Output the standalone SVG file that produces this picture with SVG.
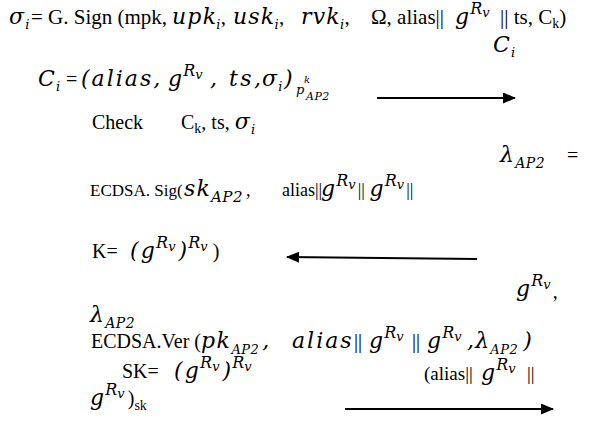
<svg xmlns="http://www.w3.org/2000/svg" width="590" height="425" viewBox="0 0 590 425">
<style>
text{fill:#000}
.t{font-family:"Liberation Serif",serif;font-style:normal;font-size:20px;letter-spacing:0}
.m{font-family:"DejaVu Serif",serif;font-style:italic;font-size:22px;letter-spacing:1.2px}
.sb{font-family:"DejaVu Serif",serif;font-style:italic;font-size:13px;letter-spacing:0.5px}
.R{font-family:"DejaVu Serif",serif;font-style:italic;font-size:16px;letter-spacing:0}
.v{font-family:"DejaVu Serif",serif;font-style:italic;font-size:13px;letter-spacing:0}
.ts{font-family:"Liberation Serif",serif;font-style:normal;font-size:14px;letter-spacing:0}
.ln{stroke:#000;stroke-width:2;fill:none}
</style>
<defs>
<marker id="ah" markerWidth="13" markerHeight="11" refX="12" refY="5.5" orient="auto" markerUnits="userSpaceOnUse">
<path d="M0,0 L13,5.5 L0,11 Z" fill="#000"/>
</marker>
</defs>
<rect width="590" height="425" fill="#fff"/>

<g id="connectors">
<line x1="377" y1="98" x2="515" y2="98" class="ln" marker-end="url(#ah)"/>
<line x1="477" y1="259" x2="287" y2="257" class="ln" marker-end="url(#ah)"/>
<line x1="345" y1="409" x2="553" y2="409" class="ln" marker-end="url(#ah)"/>
</g>

<g id="gsign">
<text x="9" y="24" class="m">σ<tspan class="sb" dy="5">i</tspan></text>
<text x="31" y="24" class="t" style="font-size:21px">= G. Sign (mpk,</text>
<text x="172" y="24" class="m">upk<tspan class="sb" dy="5" dx="-1">i</tspan><tspan class="t" dy="-5" style="font-size:21px">,</tspan></text>
<text x="233" y="24" class="m">usk<tspan class="sb" dy="5" dx="-1">i</tspan><tspan class="t" dy="-5" style="font-size:21px">,</tspan></text>
<text x="301" y="24" class="m">rvk<tspan class="sb" dy="5" dx="-1">i</tspan><tspan class="t" dy="-5" style="font-size:21px">,</tspan></text>
<text x="371" y="24" class="t" style="font-size:21px">Ω, alias||</text>
<text x="455" y="24" class="m">g<tspan class="R" dy="-10">R</tspan><tspan class="v" dy="3">v</tspan></text>
<text x="500" y="24" class="t" style="font-size:21px">|| ts, C<tspan class="ts" dy="4">k</tspan><tspan dy="-4">)</tspan></text>
</g>

<g id="ci">
<text x="493" y="52" class="m">C<tspan class="sb" dy="5">i</tspan></text>
</g>

<g id="cidef">
<text x="38" y="86" class="m">C<tspan class="sb" dy="5">i</tspan></text>
<text x="66" y="86" class="t">=</text>
<text x="81" y="86" class="m" style="letter-spacing:2px">(alias,</text>
<text x="168" y="86" class="m">g<tspan class="R" dy="-10">R</tspan><tspan class="v" dy="3">v</tspan></text>
<text x="210" y="86" class="m" style="letter-spacing:2.5px">, ts,</text>
<text x="262" y="86" class="m">σ<tspan class="sb" dy="5">i</tspan><tspan dy="-5" dx="1">)</tspan></text>
<text x="296" y="94" class="sb">p</text>
<text x="304" y="83" class="v" style="font-size:10px">k</text>
<text x="306" y="100" class="sb" style="font-size:11px">AP2</text>
</g>

<g id="check">
<text x="92" y="129" class="t">Check</text>
<text x="181" y="129" class="t">C<tspan class="ts" dy="4">k</tspan><tspan dy="-4">, ts, </tspan><tspan class="m">σ</tspan><tspan class="sb" dy="5">i</tspan></text>
</g>

<g id="lambda1">
<text x="500" y="162" class="m">λ<tspan class="sb" dy="6" style="font-size:14px">AP2</tspan></text>
<text x="567" y="162" class="t">=</text>
</g>

<g id="ecdsasig">
<text x="90" y="196" class="t" style="font-size:17px">ECDSA. Sig(</text>
<text x="184" y="196" class="m">sk<tspan class="sb" dy="6" style="font-size:15px">AP2</tspan><tspan class="t" dy="-6" dx="3" style="font-size:18px">,</tspan></text>
<text x="282" y="196" class="t" style="font-size:18px">alias||</text>
<text x="321" y="196" class="m">g<tspan class="R" dy="-10">R</tspan><tspan class="v" dy="3">v</tspan><tspan class="t" dy="7" dx="2" style="font-size:18px">|| </tspan><tspan class="m">g</tspan><tspan class="R" dy="-10">R</tspan><tspan class="v" dy="3">v</tspan><tspan class="t" dy="7" dx="2" style="font-size:18px">||</tspan></text>
</g>

<g id="kdef">
<text x="92" y="258" class="t">K=</text>
<text x="130" y="258" class="m">(<tspan dx="1">g</tspan><tspan class="R" dy="-10">R</tspan><tspan class="v" dy="3">v</tspan><tspan dy="7" dx="3">)</tspan><tspan class="R" dy="-10">R</tspan><tspan class="v" dy="3">v</tspan><tspan class="t" dy="7" dx="5">)</tspan></text>
</g>

<g id="grv">
<text x="516" y="296" class="m">g<tspan class="R" dy="-10">R</tspan><tspan class="v" dy="3">v</tspan><tspan class="t" dy="9" dx="2">,</tspan></text>
</g>

<g id="lambda2">
<text x="90" y="322" class="m">λ<tspan class="sb" dy="6" style="font-size:14px">AP2</tspan></text>
</g>

<g id="ecdsaver">
<text x="91" y="348" class="t">ECDSA.Ver (<tspan class="m" style="letter-spacing:1.5px">pk</tspan><tspan class="sb" dy="6" style="font-size:13px">AP2</tspan><tspan class="m" dy="-6" dx="3">,</tspan></text>
<text x="292" y="348" class="m" style="letter-spacing:2px">alias</text>
<text x="354" y="348" class="t">||</text>
<text x="369" y="348" class="m">g<tspan class="R" dy="-10">R</tspan><tspan class="v" dy="3">v</tspan></text>
<text x="412" y="348" class="t">||</text>
<text x="427" y="348" class="m">g<tspan class="R" dy="-10">R</tspan><tspan class="v" dy="3">v</tspan></text>
<text x="467" y="348" class="m">,λ<tspan class="sb" dy="6" style="font-size:13px">AP2</tspan><tspan dy="-6" dx="5">)</tspan></text>
</g>

<g id="skdef">
<text x="122" y="378" class="t">SK=</text>
<text x="174" y="378" class="m">(<tspan dx="1">g</tspan><tspan class="R" dy="-10">R</tspan><tspan class="v" dy="3">v</tspan><tspan dy="7" dx="3">)</tspan><tspan class="R" dy="-10">R</tspan><tspan class="v" dy="3">v</tspan></text>
</g>

<g id="aliasmsg">
<text x="424" y="380" class="t" style="font-size:19px">(alias||</text>
<text x="481" y="380" class="m">g<tspan class="R" dy="-10">R</tspan><tspan class="v" dy="3">v</tspan></text>
<text x="527" y="380" class="t" style="font-size:19px">||</text>
</g>

<g id="grvsk">
<text x="90" y="405" class="m">g<tspan class="R" dy="-10">R</tspan><tspan class="v" dy="3">v</tspan><tspan class="t" dy="7" dx="3">)</tspan><tspan class="ts" dy="5">sk</tspan></text>
</g>
</svg>
